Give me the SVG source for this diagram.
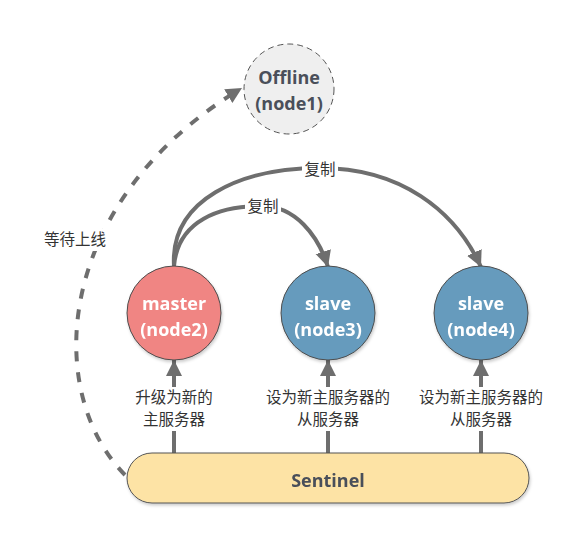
<svg xmlns="http://www.w3.org/2000/svg" width="586" height="546" viewBox="0 0 586 546">
<style>
.conn{fill:none;stroke:#6e6e6e;stroke-width:4}
.dash{stroke-dasharray:10 11}
.lbl{font-family:"Noto Sans CJK SC","Liberation Sans",sans-serif;font-size:15.5px;fill:#333;text-anchor:middle}
.nt{font-family:"Open Sans","Noto Sans","Liberation Sans",sans-serif;font-size:18px;font-weight:bold;fill:#fff;text-anchor:middle}
.bg{fill:#fff}
.circ{stroke:#4d4d4d;stroke-width:1}
</style>
<defs>
<marker id="ah" markerUnits="userSpaceOnUse" markerWidth="18" markerHeight="18" refX="16" refY="8" orient="auto">
<path d="M0,0 L16,8 L0,16 Z" fill="#6e6e6e"/>
</marker>
<filter id="sh" x="-20%" y="-20%" width="140%" height="140%">
<feDropShadow dx="1" dy="2" stdDeviation="1.5" flood-color="#000" flood-opacity="0.2"/>
</filter>
</defs>
<g id="connectors">
<path class="conn dash" d="M125,475 C42,390 55,200 242,88" marker-end="url(#ah)"/>
<path class="conn" d="M174,266 C170,200 240,168 320,168 C400,168 455,210 481,267" marker-end="url(#ah)"/>
<path class="conn" d="M174,266 C178,220 220,206 262,206 C295,206 318,235 328,267" marker-end="url(#ah)"/>
<path class="conn" d="M174,453 L174,360" marker-end="url(#ah)"/>
<path class="conn" d="M328,453 L328,360" marker-end="url(#ah)"/>
<path class="conn" d="M481,453 L481,360" marker-end="url(#ah)"/>
<rect class="bg" x="40" y="229" width="70" height="22"/>
<text class="lbl" x="75" y="245">等待上线</text>
<rect class="bg" x="302" y="159" width="36" height="22"/>
<text class="lbl" x="320" y="175">复制</text>
<rect class="bg" x="245" y="196" width="36" height="22"/>
<text class="lbl" x="263" y="212">复制</text>
<rect class="bg" x="130" y="387" width="88" height="44"/>
<text class="lbl" x="174" y="403">升级为新的</text>
<text class="lbl" x="174" y="425">主服务器</text>
<rect class="bg" x="262" y="387" width="132" height="44"/>
<text class="lbl" x="328" y="403">设为新主服务器的</text>
<text class="lbl" x="328" y="425">从服务器</text>
<rect class="bg" x="415" y="387" width="132" height="44"/>
<text class="lbl" x="481" y="403">设为新主服务器的</text>
<text class="lbl" x="481" y="425">从服务器</text>
</g>
<g id="offline">
<circle cx="289" cy="89" r="45" fill="#efefef" stroke="#555" stroke-width="1" stroke-dasharray="6 4"/>
<text class="nt" x="289" y="84" style="fill:#4a4f5a">Offline</text>
<text class="nt" x="289" y="110" style="fill:#4a4f5a">(node1)</text>
</g>
<g id="master" filter="url(#sh)">
<circle class="circ" cx="174" cy="313" r="47" fill="#f08583"/>
<text class="nt" x="174" y="310">master</text>
<text class="nt" x="174" y="336">(node2)</text>
</g>
<g id="slave3" filter="url(#sh)">
<circle class="circ" cx="328" cy="313" r="47" fill="#669bbd"/>
<text class="nt" x="328" y="310">slave</text>
<text class="nt" x="328" y="336">(node3)</text>
</g>
<g id="slave4" filter="url(#sh)">
<circle class="circ" cx="481" cy="313" r="47" fill="#669bbd"/>
<text class="nt" x="481" y="310">slave</text>
<text class="nt" x="481" y="336">(node4)</text>
</g>
<g id="sentinel" filter="url(#sh)">
<rect x="127" y="453" width="402" height="50" rx="25" fill="#fde3a5" stroke="#555" stroke-width="1"/>
<text class="nt" x="328" y="487" style="fill:#4a4f5a">Sentinel</text>
</g>
</svg>
